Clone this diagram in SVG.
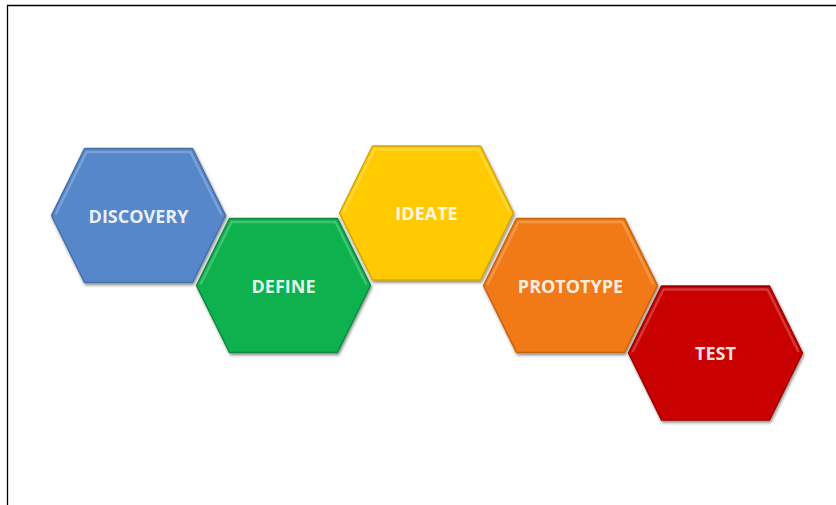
<svg xmlns="http://www.w3.org/2000/svg" xmlns:xlink="http://www.w3.org/1999/xlink" width="836" height="505" viewBox="0 0 836 505">
  <style>
    .lbl { font-family: "Open Sans", "Liberation Sans", sans-serif; font-weight: bold; font-size: 18px; fill: #ffffff; fill-opacity: 0.9; text-anchor: middle; dominant-baseline: central; }
    .hl { fill: none; stroke: #ffffff; stroke-opacity: 0.22; stroke-width: 2.5; stroke-linejoin: round; }
    .hex { stroke-width: 1.5; stroke-linejoin: round; filter: url(#shadow); }
  </style>
  <defs>
    <polygon id="hexShape" points="-87,0 -54,-67 54,-67 87,0 54,67 -54,67"/>
    <polyline id="hexHl" points="-83,-1 -52,-63.5 52,-63.5 83,-1"/>
    <filter id="shadow" x="-20%" y="-20%" width="140%" height="140%">
      <feDropShadow dx="1" dy="2" stdDeviation="1.5" flood-color="#000000" flood-opacity="0.45"/>
    </filter>
  </defs>
  <rect width="836" height="505" fill="#ffffff"/>
  <g id="frame" fill="none" stroke="#000000" stroke-width="1.3">
    <polyline points="7.5,505 7.5,5.5 836,5.5"/>
  </g>
  <g id="connectors"></g>
  <g id="discovery" transform="translate(138.5,215.5)">
    <use xlink:href="#hexShape" class="hex" fill="#5787CB" stroke="#4670A8"/>
    <use xlink:href="#hexHl" class="hl"/>
    <text class="lbl" x="0" y="0">DISCOVERY</text>
  </g>
  <g id="define" transform="translate(283.5,285.5)">
    <use xlink:href="#hexShape" class="hex" fill="#0CB14E" stroke="#0A8A3C"/>
    <use xlink:href="#hexHl" class="hl"/>
    <text class="lbl" x="0" y="0">DEFINE</text>
  </g>
  <g id="ideate" transform="translate(426.5,213)">
    <use xlink:href="#hexShape" class="hex" fill="#FFCB05" stroke="#D2A600"/>
    <use xlink:href="#hexHl" class="hl"/>
    <text class="lbl" x="0" y="0">IDEATE</text>
  </g>
  <g id="prototype" transform="translate(570.5,285.5)">
    <use xlink:href="#hexShape" class="hex" fill="#F27A14" stroke="#C7620E"/>
    <use xlink:href="#hexHl" class="hl"/>
    <text class="lbl" x="0" y="0">PROTOTYPE</text>
  </g>
  <g id="test" transform="translate(715.5,353)">
    <use xlink:href="#hexShape" class="hex" fill="#C90404" stroke="#9E0202"/>
    <use xlink:href="#hexHl" class="hl"/>
    <text class="lbl" x="0" y="0">TEST</text>
  </g>
</svg>
